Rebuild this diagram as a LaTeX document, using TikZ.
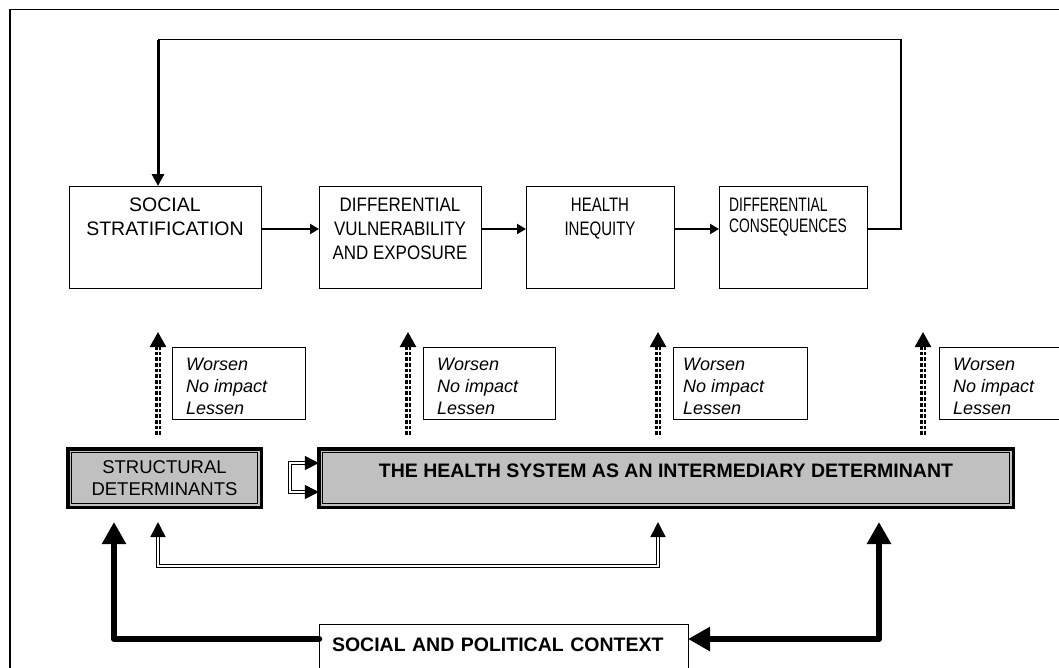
\documentclass[tikz,border=0pt]{standalone}
\usepackage{fontspec}
\setmainfont{Liberation Sans}
\newfontfamily\fB{Liberation Sans}[FakeStretch=0.87]
\newfontfamily\fC{Liberation Sans}[FakeStretch=0.77]
\newfontfamily\fD{Liberation Sans}[FakeStretch=0.71]
\usetikzlibrary{arrows.meta}
\definecolor{boxgray}{RGB}{192,192,192}
\newcommand\topfont{\fontsize{19.5}{23.8}\selectfont}
\tikzset{
  topbox/.style={draw, line width=1pt, minimum height=102, inner sep=0, outer sep=0},
  toptext/.style={inner sep=0, font=#1},
  wbox/.style={draw, line width=1pt, minimum width=133, minimum height=72, inner sep=0, outer sep=0},
  wtext/.style={inner sep=0, align=left, anchor=north west, font=\itshape\fontsize{18}{22}\selectfont},
  gbox/.style={fill=boxgray, draw, line width=3.5pt, inner sep=0, outer sep=0, minimum height=58.5},
  innerline/.style={line width=1.2pt},
  flowarrow/.style={line width=2.2pt, -{Triangle[width=10pt,length=9pt]}},
  dasharrow/.style={double, line width=2.5pt, double distance=1pt, dash pattern=on 3.7pt off 2pt,
                    -{Triangle[width=16pt,length=15pt]}, shorten <=13.75pt, shorten >=0pt},
  dblarrow/.style={double, line width=1.6pt, double distance=1.2pt},
  thickarrow/.style={line width=6.5pt, line join=round},
}
\begin{document}
\begin{tikzpicture}[x=1pt,y=-1pt]
\useasboundingbox (0,0) rectangle (1059,667);
\clip (0,0) rectangle (1059,667);
\draw[line width=1.2pt] (10,9.5) rectangle (1080,700);

% top row
\node[topbox, minimum width=192, label={[toptext={\topfont}, align=center, anchor=north, yshift=-12pt]north:SOCIAL\\STRATIFICATION}] (s1) at (165,237) {};
\node[topbox, minimum width=162, label={[toptext={\fB\topfont}, align=center, anchor=north, yshift=-12pt]north:DIFFERENTIAL\\VULNERABILITY\\AND EXPOSURE}] (s2) at (400,237) {};
\node[topbox, minimum width=148, label={[toptext={\fC\topfont}, align=center, anchor=north, yshift=-12pt]north:HEALTH\\INEQUITY}] (s3) at (600,237) {};
\node[topbox, minimum width=148, label={[toptext={\fD\fontsize{19.5}{21}\selectfont}, align=left, anchor=north west, xshift=10pt, yshift=-12pt]north west:DIFFERENTIAL\\CONSEQUENCES}] (s4) at (793,237) {};

\coordinate (ay) at (0,229);
\draw[flowarrow] (s1.east |- ay) -- (s2.west |- ay);
\draw[flowarrow] (s2.east |- ay) -- (s3.west |- ay);
\draw[flowarrow] (s3.east |- ay) -- (s4.west |- ay);

\coordinate (fbR) at (901,39.5);
\coordinate (fbL) at (158,39.5);
\draw[line width=1.2pt] (s4.east |- ay) -| (fbR) -- (fbL);
\draw[line width=3pt, -{Triangle[width=12pt,length=12pt]}] (fbL) -- (fbL |- s1.north);

% worsen boxes
\node[wbox, label={[wtext, xshift=14pt, yshift=-11pt]north west:Worsen\\No impact\\Lessen}] (w1) at (238.5,383) {};
\node[wbox, minimum width=132, label={[wtext, xshift=14pt, yshift=-11pt]north west:Worsen\\No impact\\Lessen}] (w2) at (489,383) {};
\node[wbox, minimum width=134, label={[wtext, xshift=10pt, yshift=-11pt]north west:Worsen\\No impact\\Lessen}] (w3) at (740,383) {};
\node[wbox, label={[wtext, xshift=14pt, yshift=-11pt]north west:Worsen\\No impact\\Lessen}] (w4) at (1005.5,383) {};

% gray boxes
\node[gbox, minimum width=193.5, align=center, font=\fontsize{18.5}{22}\selectfont] (struct) at (164.5,478) {STRUCTURAL\\DETERMINANTS};
\draw[innerline] ([shift={(3.75pt,-3.75pt)}]struct.north west) rectangle ([shift={(-3.75pt,3.75pt)}]struct.south east);
\node[gbox, minimum width=694.5, font=\bfseries\fontsize{19.5}{23.8}\selectfont, text height=14pt, text depth=16pt] (health) at (666,478) {THE HEALTH SYSTEM AS AN INTERMEDIARY DETERMINANT};
\draw[innerline] ([shift={(3.75pt,-3.75pt)}]health.north west) rectangle ([shift={(-3.75pt,3.75pt)}]health.south east);

% dashed influence arrows
\coordinate (t1) at (158,332);
\coordinate (t2) at (408,332);
\coordinate (t3) at (658,332);
\coordinate (t4) at (923,332);
\draw[dasharrow] (t1 |- struct.north) -- (t1);
\draw[dasharrow] (t2 |- health.north) -- (t2);
\draw[dasharrow] (t3 |- health.north) -- (t3);
\draw[dasharrow] (t4 |- health.north) -- (t4);

% bracket between gray boxes
\coordinate (b1) at (290,463);
\coordinate (b2) at (290,492);
\draw[dblarrow, {Triangle[width=14pt,length=14pt]}-{Triangle[width=14pt,length=14pt]}] (health.west |- b1) -- (b1) -- (b2) -- (health.west |- b2);

% feedback under gray boxes
\coordinate (u1) at (158,566);
\coordinate (u3) at (658,566);
\draw[dblarrow, {Triangle[width=15pt,length=15pt]}-{Triangle[width=15pt,length=15pt]}, shorten <=14.75pt, shorten >=14.75pt] (struct.south -| u1) -- (u1) -- (u3) -- (health.south -| u3);

% context
\node[draw, line width=1pt, anchor=north west, inner xsep=13pt, inner ysep=12pt, text width=343pt, align=left, text height=15pt, text depth=40pt, outer sep=0, font=\bfseries\fontsize{19.5}{23.8}\selectfont] (ctx) at (319,624) {SOCIAL AND POLITICAL CONTEXT};

\coordinate (k1) at (114,639);
\coordinate (k2) at (879,639);
\draw[thickarrow, line cap=round, -{Triangle[width=23pt,length=22pt]}, shorten >=14.75pt] (ctx.west |- k1) -- (k1) -- (struct.south -| k1);
\draw[thickarrow, {Triangle[width=23pt,length=22pt]}-{Triangle[width=23pt,length=22pt]}, shorten <=14.75pt] (health.south -| k2) -- (k2) -- (ctx.east |- k2);
\end{tikzpicture}
\end{document}
